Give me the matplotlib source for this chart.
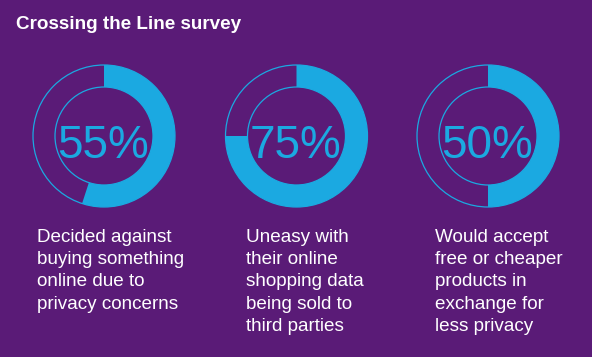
import matplotlib
matplotlib.use("Agg")
import matplotlib.pyplot as plt
from matplotlib.patches import Circle

title = "Crossing the Line survey"
percentages = [55, 75, 50]
captions = [
    "Decided against\nbuying something\nonline due to\nprivacy concerns",
    "Uneasy with\ntheir online\nshopping data\nbeing sold to\nthird parties",
    "Would accept\nfree or cheaper\nproducts in\nexchange for\nless privacy",
]

W, H = 592, 357
BG = "#5a1b77"
CYAN = "#1ba9e1"
FONT = "Liberation Sans"

fig = plt.figure(figsize=(W / 100, H / 100), dpi=100, facecolor=BG)
bg = fig.add_axes([0, 0, 1, 1])
bg.set_xlim(0, W)
bg.set_ylim(H, 0)
bg.axis("off")
bg.set_facecolor(BG)

bg.text(16, 29, title, color="white", fontsize=13.6, fontweight="bold",
        family=FONT, va="baseline", ha="left")

centers_x = [104, 296.5, 488]
center_y = 136
R_out = 71
R_in = 49
caption_x = [37, 246, 435]

for cx, pct, cap, tx in zip(centers_x, percentages, captions, caption_x):
    pad = 1.05
    size = 2 * R_out * pad
    ax = fig.add_axes([(cx - size / 2) / W, (H - center_y - size / 2) / H,
                       size / W, size / H])
    ax.pie([pct, 100 - pct], colors=[CYAN, "none"], startangle=90,
           counterclock=False, radius=1,
           wedgeprops=dict(width=(R_out - R_in) / R_out, linewidth=0))
    ax.add_patch(Circle((0, 0), 1, fill=False, edgecolor=CYAN, linewidth=0.9))
    ax.add_patch(Circle((0, 0), R_in / R_out, fill=False, edgecolor=CYAN,
                        linewidth=0.9))
    ax.set_xlim(-pad, pad)
    ax.set_ylim(-pad, pad)
    ax.set_aspect("equal")
    ax.axis("off")
    ax.text(-0.02, -0.14, f"{pct}%", color=CYAN, fontsize=33, family=FONT,
            ha="center", va="center")
    bg.text(tx, 228.5, cap, color="white", fontsize=13.6, family=FONT,
            ha="left", va="top", linespacing=1.42)

fig.savefig("out.png", dpi=100, facecolor=BG)
